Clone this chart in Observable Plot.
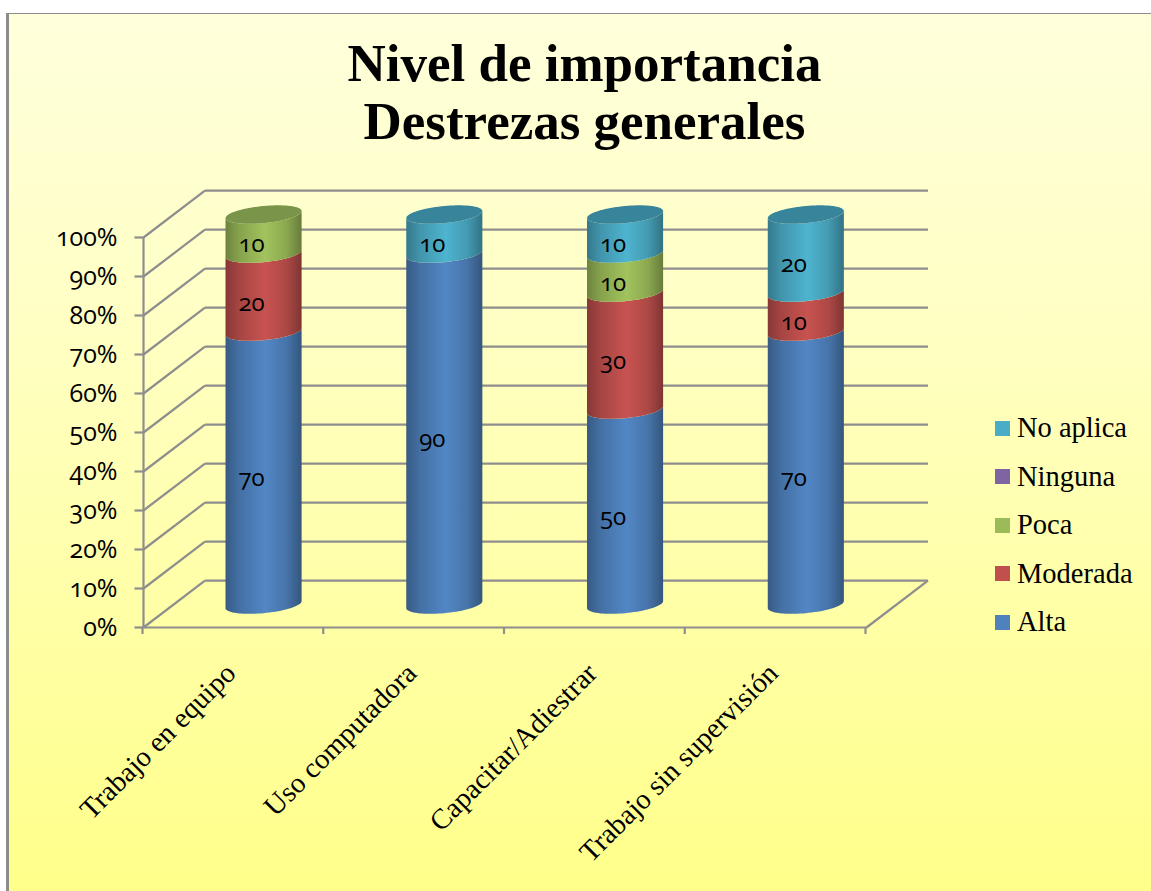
<!DOCTYPE html>
<html lang="es">
<head>
<meta charset="utf-8">
<script src="https://cdn.jsdelivr.net/npm/d3@7"></script>
<script src="https://cdn.jsdelivr.net/npm/@observablehq/plot@0.6"></script>
<style>
html,body{margin:0;padding:0;background:#fff;width:1151px;height:891px;overflow:hidden}
#frame{position:absolute;left:6px;top:13px;width:1145px;height:878px;box-sizing:border-box;
 border-left:3px solid #8c8c8c;border-top:1.5px solid #8c8c8c;
 background:linear-gradient(#ffffdc 0%,#ffffc4 35%,#ffff8a 100%)}
#title{position:absolute;left:9px;top:34px;width:1151px;text-align:center;font:bold 53px/58px "Liberation Serif",serif;color:#000}
#chart{position:absolute;left:0;top:170px;font-feature-settings:"onum"}
#legend{position:absolute;left:995px;top:404px;font:28.5px/48.5px "Liberation Serif",serif;color:#000}
#legend div{display:flex;align-items:center;height:48.5px}
#legend i{display:block;width:15px;height:15px;margin-right:7px}
</style>
</head>
<body>
<div id="frame"></div>
<div id="title">Nivel de importancia<br>Destrezas generales</div>
<div id="chart"></div>
<div id="legend"></div>
<script>
const categories = ["Trabajo en equipo","Uso computadora","Capacitar/Adiestrar","Trabajo sin supervisión"];
const seriesNames = ["Alta","Moderada","Poca","Ninguna","No aplica"];
const alta = [70,90,50,70];
const moderada = [20,0,30,10];
const poca = [10,0,10,0];
const ninguna = [0,0,0,0];
const noAplica = [0,10,10,20];
const seriesValues = [alta,moderada,poca,ninguna,noAplica];
const colors = ["#4f81bd","#c0504d","#9bbb59","#8064a2","#4bacc6"];
const capColors = ["#3f6797","#9a403e","#7a9449","#66508a","#37849b"];
const yTicks = d3.range(0,101,10);

// projection of the fake 3D box, in data units
const depthX = 0.34, depthY = 12;
const baseY = 5.75, offX = 0.667, radX = 0.2105, tilt = 0.9, radY = 2.2;
const ts = d3.range(0,41).map(i => i/40*Math.PI);

const edge = (i,v,t,s) => ({
  x: i + offX - radX*Math.cos(t),
  y: baseY + v - tilt*Math.cos(t) - s*radY*Math.sin(t)
});
const segments = [], labels = [], caps = [];
categories.forEach((c,i) => {
  let acc = 0, last = 0;
  seriesValues.forEach((vals,s) => {
    const v = vals[i];
    if (!v) return;
    ts.forEach(t => {
      const a = edge(i,acc,t,1), b = edge(i,acc+v,t,1);
      segments.push({id:c+s, s, x:a.x, y1:a.y, y2:b.y});
    });
    labels.push({x:i+offX-0.069, y:baseY+acc+v/2-2.5, v});
    acc += v; last = s;
  });
  ts.forEach(t => {
    const a = edge(i,acc,t,1), b = edge(i,acc,t,-1);
    caps.push({id:c, s:last, x:a.x, y1:a.y, y2:b.y});
  });
});

const gridStroke = {stroke:"#8e8e8e", strokeWidth:2.2};
const gradients = () => {
  const ns = "http://www.w3.org/2000/svg";
  const defs = document.createElementNS(ns,"defs");
  colors.forEach((col,i) => {
    const g = document.createElementNS(ns,"linearGradient");
    g.setAttribute("id","cyl"+i);
    const base = d3.color(col);
    [[0,base.darker(1.0)],[0.18,base.darker(0.4)],[0.52,base.brighter(0.12)],[0.8,base.darker(0.3)],[1,base.darker(1.15)]].forEach(([o,c]) => {
      const st = document.createElementNS(ns,"stop");
      st.setAttribute("offset",o);
      st.setAttribute("stop-color",c.formatHex());
      g.appendChild(st);
    });
    defs.appendChild(g);
  });
  return defs;
};

const plot = Plot.plot({
  width:1151, height:721,
  marginLeft:143, marginRight:285, marginTop:67, marginBottom:264,
  x:{domain:[0,4], label:null},
  y:{domain:[0,100], label:null},
  style:{background:"transparent", fontFamily:"'Liberation Serif',serif", color:"#000", overflow:"visible"},
  marks:[
    gradients,
    // walls
    Plot.link(yTicks,{x1:depthX,x2:4+depthX,y1:d=>d+depthY,y2:d=>d+depthY,...gridStroke}),
    Plot.link(yTicks,{x1:0,x2:depthX,y1:d=>d,y2:d=>d+depthY,...gridStroke}),
    Plot.link([0],{x1:4,x2:4+depthX,y1:0,y2:depthY,...gridStroke}),
    // axis lines and ticks
    Plot.link([0],{x1:0,x2:0,y1:0,y2:100,...gridStroke}),
    Plot.link([0],{x1:0,x2:4,y1:0,y2:0,...gridStroke}),
    Plot.link(yTicks,{x1:-0.05,x2:0,y1:d=>d,y2:d=>d,...gridStroke}),
    Plot.axisX({ticks:[0,1,2,3,4],tickSize:7,fill:"none",dx:-1,...gridStroke,label:null}),
    Plot.axisY({ticks:yTicks,tickSize:0,tickPadding:26,tickFormat:d=>d+"%",fontSize:25,fontFamily:"'Open Sans',sans-serif",stroke:"none",fill:"#000",dy:0,label:null}),
    Plot.axisX({ticks:categories.map((c,i)=>i+0.5),tickFormat:d=>categories[Math.floor(d)],tickSize:0,tickPadding:41,tickRotate:-45,textAnchor:"end",fontSize:28.5,dx:-3,stroke:"none",fill:"#000",label:null}),
    // cylinders
    ...colors.map((c,s)=>Plot.areaY(segments.filter(d=>d.s===s),{x:"x",y1:"y1",y2:"y2",z:"id",fill:`url(#cyl${s})`})),
    ...capColors.map((c,s)=>Plot.areaY(caps.filter(d=>d.s===s),{x:"x",y1:"y1",y2:"y2",z:"id",fill:c})),
    Plot.text(labels,{x:"x",y:"y",text:"v",fontSize:24,fontFamily:"'Open Sans',sans-serif",fill:"#000"})
  ]
});
document.getElementById("chart").appendChild(plot);

const legend = document.getElementById("legend");
seriesNames.slice().reverse().forEach(n => {
  const row = document.createElement("div");
  const sw = document.createElement("i");
  sw.style.background = colors[seriesNames.indexOf(n)];
  row.appendChild(sw);
  row.appendChild(document.createTextNode(n));
  legend.appendChild(row);
});
</script>
</body>
</html>
